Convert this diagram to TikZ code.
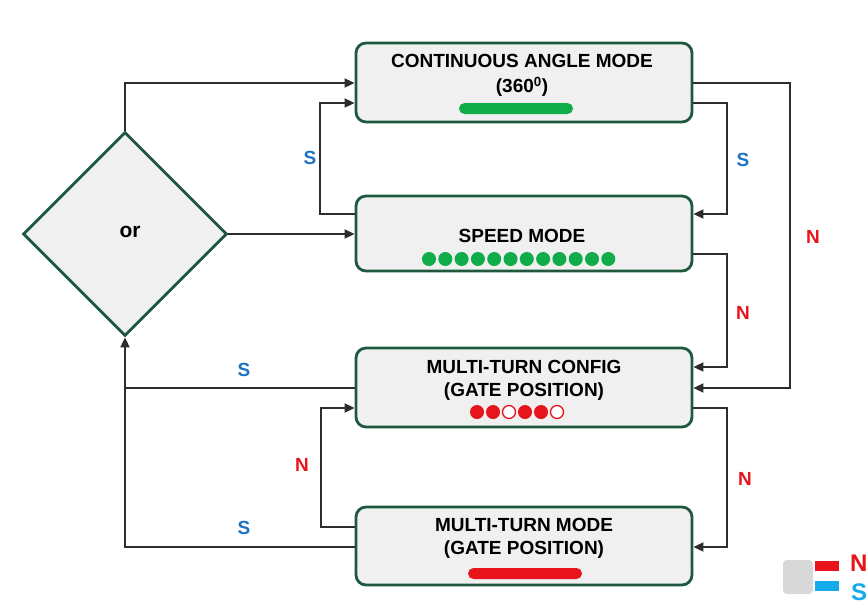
\documentclass[tikz,border=0pt]{standalone}
\usepackage{fontspec}
\setmainfont{Liberation Sans}
\usetikzlibrary{shapes.geometric,arrows.meta}
\definecolor{boxgreen}{RGB}{30,88,62}
\definecolor{boxfill}{RGB}{240,240,240}
\definecolor{linegray}{RGB}{45,45,45}
\definecolor{sblue}{RGB}{30,115,195}
\definecolor{nred}{RGB}{232,20,28}
\definecolor{dotgreen}{RGB}{16,172,74}
\definecolor{legblue}{RGB}{20,170,235}
\definecolor{leggray}{RGB}{216,216,216}
\tikzset{
  modebox/.style={draw=boxgreen, line width=2.8pt, fill=boxfill, rounded corners=10pt,
    minimum width=336pt, inner sep=0pt},
  dec/.style={draw=boxgreen, line width=2.8pt, fill=boxfill, shape=diamond, inner sep=0pt,
    minimum width=204pt, minimum height=204pt},
  conn/.style={draw=linegray, line width=1.8pt},
  arr/.style={conn, -{Triangle[length=10pt,width=9pt]}},
  txt/.style={font=\fontsize{19}{23}\selectfont\bfseries, text=black, inner sep=0pt},
  slab/.style={font=\fontsize{19}{23}\selectfont\bfseries, text=sblue, inner sep=0pt},
  nlab/.style={font=\fontsize{19}{23}\selectfont\bfseries, text=nred, inner sep=0pt},
  gdot/.style={circle, fill=dotgreen, minimum size=14pt, inner sep=0pt},
  rdot/.style={circle, fill=nred, minimum size=14pt, inner sep=0pt},
  odot/.style={circle, draw=nred, fill=white, line width=1.3pt, minimum size=13pt, inner sep=0pt},
  pill/.style={rounded corners=5.5pt, minimum height=11pt, minimum width=114pt, inner sep=0pt}
}
\begin{document}
\begin{tikzpicture}[x=1pt,y=-1pt]
\useasboundingbox (0,0) rectangle (867,603);
\clip (0,0) rectangle (867,603);

% boxes
\node[modebox, minimum height=79pt] (b1) at (524,82.5) {};
\node[modebox, minimum height=75pt] (b2) at (524,233.5) {};
\node[modebox, minimum height=79pt] (b3) at (524,387.5) {};
\node[modebox, minimum height=78pt] (b4) at (524,546) {};
\node[dec] (d) at (125,234) {};

% texts
\node[txt] (t1a) at (522,61) {CONTINUOUS ANGLE MODE};
\node[txt] (t1b) at (522,87) {(360\textsuperscript{0})};
\node[txt] (t2) at (522,236) {SPEED MODE};
\node[txt] (t3a) at (524,367) {MULTI-TURN CONFIG};
\node[txt] (t3b) at (524,392) {(GATE POSITION)};
\node[txt] (t4a) at (524,525) {MULTI-TURN MODE};
\node[txt] (t4b) at (524,550) {(GATE POSITION)};
\node[font=\fontsize{21}{25}\selectfont\bfseries, inner sep=0pt] (tor) at (130,232) {or};

% indicators
\node[pill, fill=dotgreen] (g1) at (516,108.5) {};
\foreach \i in {0,...,11} {\node[gdot] (gd\i) at (429+16.3*\i,259) {};}
\node[rdot] (r0) at (477,412) {};
\node[rdot] (r1) at (493,412) {};
\node[odot] (r2) at (509,412) {};
\node[rdot] (r3) at (525,412) {};
\node[rdot] (r4) at (541,412) {};
\node[odot] (r5) at (557,412) {};
\node[pill, fill=nred] (rb) at (525,573.5) {};

% connectors
\draw[arr] (d.north) |- (b1.west |- 0,83);
\draw[arr] (b2.west |- 0,214) -- (320,214) |- (b1.west |- 0,103);
\draw[arr] (d.east) -- (b2.west |- 0,234);
\draw[arr] (b1.east |- 0,83) -- (790,83) |- (b3.east |- 0,388);
\draw[arr] (b1.east |- 0,103) -- (727,103) |- (b2.east |- 0,214);
\draw[arr] (b2.east |- 0,254) -- (727,254) |- (b3.east |- 0,367);
\draw[arr] (b3.east |- 0,408) -- (727,408) |- (b4.east |- 0,547);
\draw[conn] (b3.west |- 0,388) -- (125,388);
\draw[arr] (b4.west |- 0,547) -| (d.south);
\draw[arr] (b4.west |- 0,527) -- (321,527) |- (b3.west |- 0,408);

% labels
\node[slab] (s1) at (310,158) {S};
\node[slab] (s2) at (743,160) {S};
\node[nlab] (n1) at (813,237) {N};
\node[nlab] (n2) at (743,313) {N};
\node[slab] (s3) at (244,370) {S};
\node[nlab] (n3) at (302,465) {N};
\node[nlab] (n4) at (745,479) {N};
\node[slab] (s4) at (244,528) {S};

% legend
\node[fill=leggray, rounded corners=4pt, minimum width=30pt, minimum height=34pt, inner sep=0pt] (lg) at (798,577) {};
\node[fill=nred, minimum width=24pt, minimum height=10pt, inner sep=0pt] (lr) at (826.5,566) {};
\node[fill=legblue, minimum width=24pt, minimum height=10pt, inner sep=0pt] (lb) at (826.5,586) {};
\node[font=\fontsize{24}{28}\selectfont\bfseries, text=nred, inner sep=0pt, anchor=west] (ln) at (850,563) {N};
\node[font=\fontsize{24}{28}\selectfont\bfseries, text=legblue, inner sep=0pt, anchor=west] (ls) at (851,592) {S};
\end{tikzpicture}
\end{document}
